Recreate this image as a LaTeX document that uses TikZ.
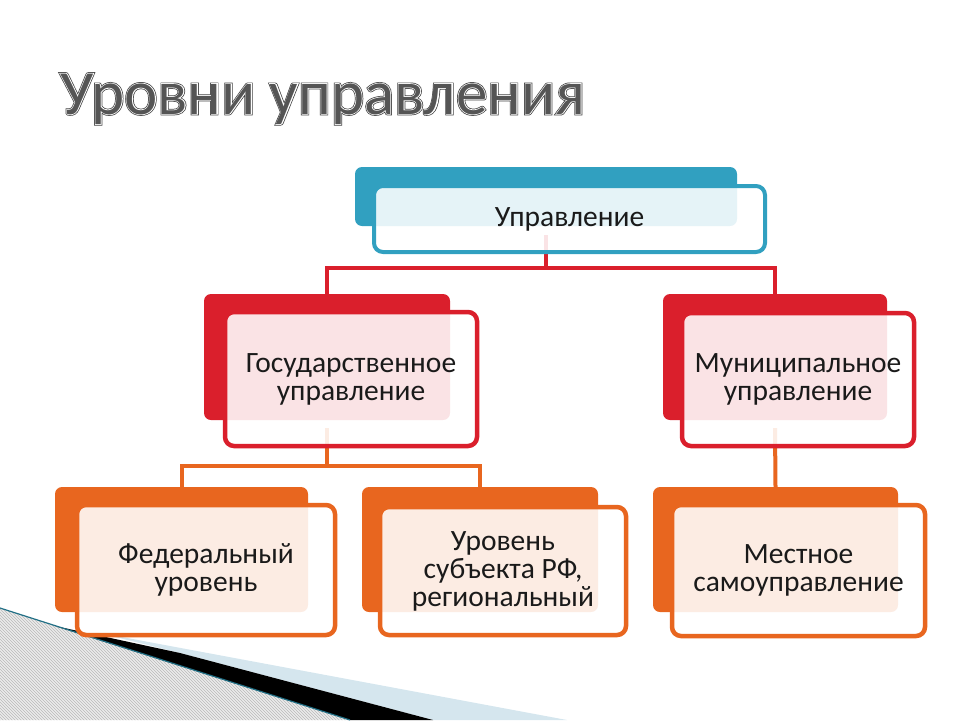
\documentclass[tikz,border=0pt]{standalone}
\usepackage{fontspec}
\setmainfont{Carlito}
\newfontfamily\ttlA{Carlito}[FakeBold=4.5]
\newfontfamily\ttlB{Carlito}[FakeBold=2.2]
\newfontfamily\ttlC{Carlito}
\usetikzlibrary{patterns}
\definecolor{cteal}{HTML}{31A0C0}
\definecolor{cred}{HTML}{DA1F2C}
\definecolor{corange}{HTML}{E8661F}
\definecolor{cband}{HTML}{D5E6EE}
\definecolor{ctitle}{HTML}{404040}
\definecolor{ctitlec}{HTML}{555555}
\definecolor{ctext}{HTML}{1A1A1A}
\definecolor{chatch}{HTML}{ECECEC}
\tikzset{
  backbox/.style={rectangle, rounded corners=7pt, fill=#1, draw=none, inner sep=0pt},
  frontbox/.style={rectangle, rounded corners=9pt, draw=#1, line width=4.5pt,
     fill=white, fill opacity=0.88, text opacity=1, inner sep=0pt,
     text=ctext, align=center, font=\fontsize{29.5}{28}\selectfont},
  conn/.style={draw=#1, line width=4pt, line join=miter},
  ttl/.style={anchor=base west, inner sep=0pt, font=\fontsize{63}{66}\selectfont}
}
\begin{document}
\begin{tikzpicture}[x=1pt,y=-1pt]
\useasboundingbox (0,0) rectangle (960,720);
% background decoration
\fill[chatch] (0,608) -- (350,720) -- (0,720) -- cycle;
\fill[pattern=north west lines, pattern color=gray!55] (0,608) -- (350,720) -- (0,720) -- cycle;
\fill[cband] (95,632) -- (567,720) -- (433,720) -- (180,653) -- cycle;
\fill[black] (55,626) -- (180,653) -- (433,720) -- (350,720) -- cycle;
\draw[cteal!70!black, line width=1.2pt] (0,608) -- (350,720);
% title
\node[ttl, text=ctitle] (t1) at (60,114) {\ttlA Уровни управления};
\node[ttl, text=white] (t2) at (60,114) {\ttlB Уровни управления};
\node[ttl, text=ctitlec] (t3) at (60,114) {\ttlC Уровни управления};
% back rectangles
\node[backbox=cteal, minimum width=382pt, minimum height=59pt] (b0) at (546,196.5) {};
\node[backbox=cred, minimum width=246pt, minimum height=126pt] (b1) at (327,357) {};
\node[backbox=cred, minimum width=224pt, minimum height=126pt] (b2) at (775,357) {};
\node[backbox=corange, minimum width=253pt, minimum height=125pt] (b3) at (181.5,549.5) {};
\node[backbox=corange, minimum width=236pt, minimum height=125pt] (b4) at (480,549.5) {};
\node[backbox=corange, minimum width=245pt, minimum height=125pt] (b5) at (775.5,549.5) {};
% connectors
\coordinate (j0) at (546,268);
\coordinate (j1) at (327,466);
\draw[conn=cred] ([yshift=-9pt]b0.south) -- (j0);
\draw[conn=cred] (b1.north) |- (j0) -| (b2.north);
\draw[conn=corange] ([yshift=-8pt]b1.south) -- (j1);
\draw[conn=corange] (b3.north) |- (j1) -| (b4.north);
\draw[conn=corange] ([yshift=-8pt]b2.south) -- (b5.north);
% front boxes
\node[frontbox=cteal, line width=4pt, minimum width=391pt, minimum height=66pt] (f0) at (569.5,219) {Управление};
\node[frontbox=cred, minimum width=252pt, minimum height=134pt] (f1) at (351,379) {Государственное\\управление};
\node[frontbox=cred, minimum width=232pt, minimum height=133pt] (f2) at (798,379.5) {Муниципальное\\управление};
\node[frontbox=corange, minimum width=258pt, minimum height=130pt] (f3) at (206,570) {Федеральный\\уровень};
\node[frontbox=corange, minimum width=246pt, minimum height=128pt] (f4) at (503,571) {Уровень\\субъекта РФ,\\региональный};
\node[frontbox=corange, minimum width=253pt, minimum height=131pt] (f5) at (798.5,570.5) {Местное\\самоуправление};
\end{tikzpicture}
\end{document}
